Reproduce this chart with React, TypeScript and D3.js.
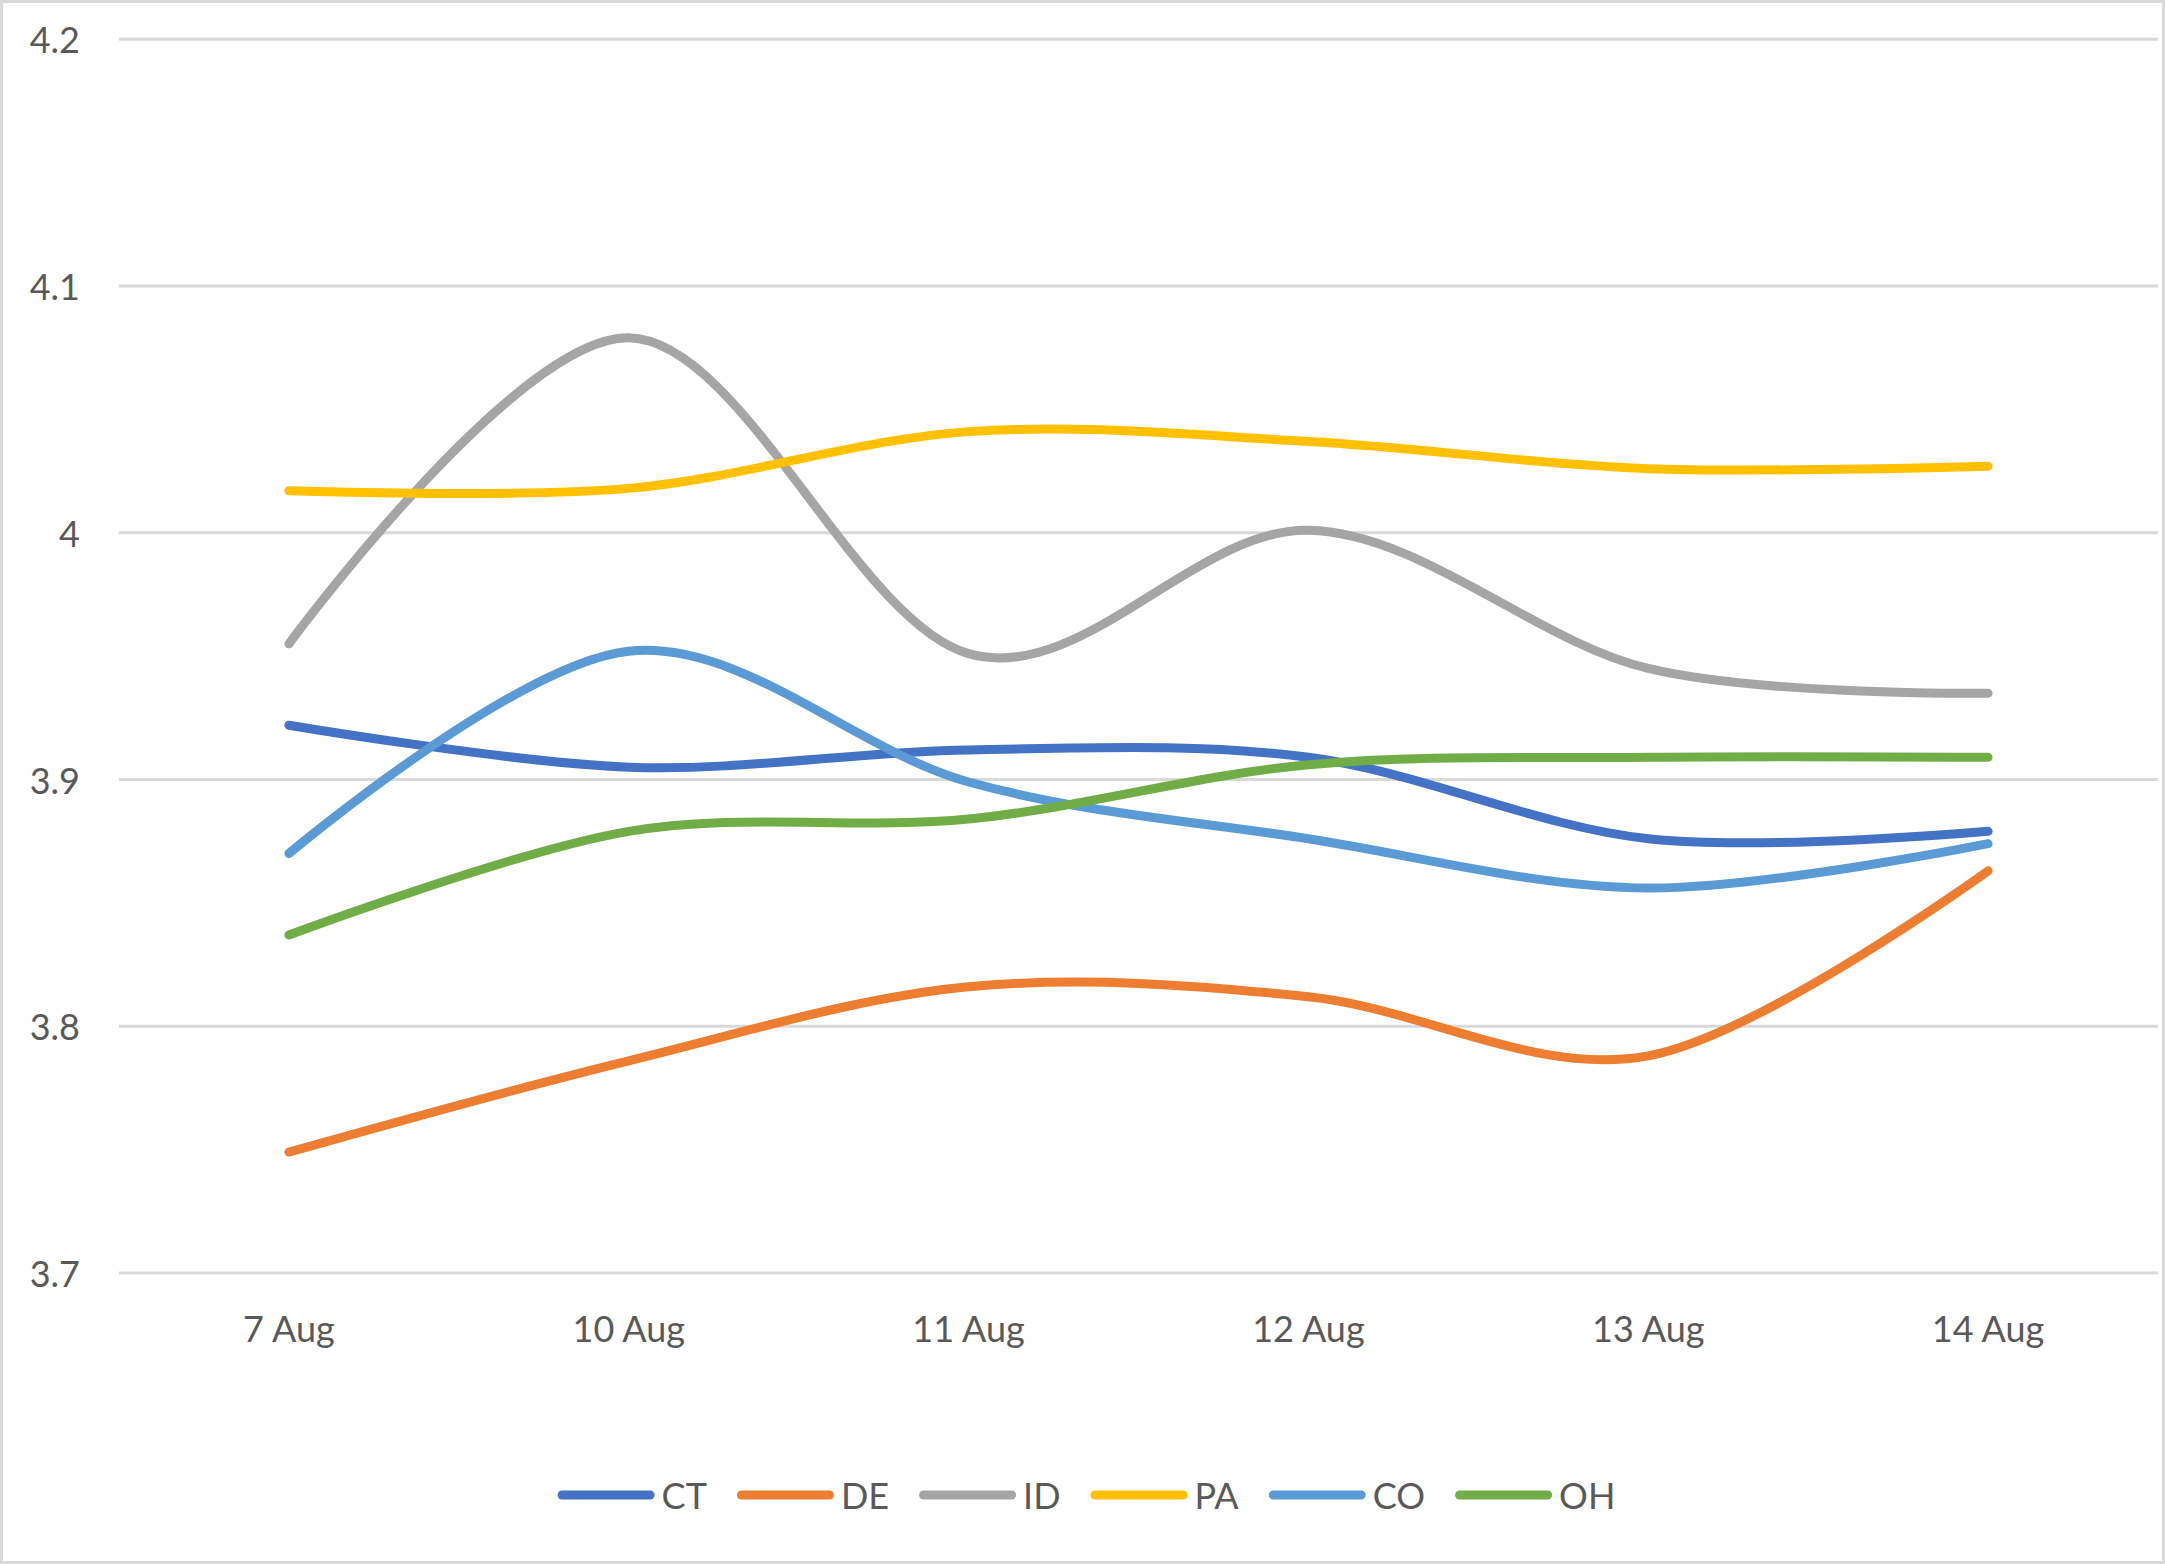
import React, { useMemo } from "react";
import * as d3 from "d3";

const categories = ["7 Aug", "10 Aug", "11 Aug", "12 Aug", "13 Aug", "14 Aug"];
const seriesNames = ["CT", "DE", "ID", "PA", "CO", "OH"];
const seriesColors = ["#4472C4", "#ED7D31", "#A5A5A5", "#FFC000", "#5B9BD5", "#70AD47"];
const ctValues = [3.922, 3.905, 3.912, 3.909, 3.876, 3.879];
const deValues = [3.749, 3.786, 3.816, 3.812, 3.788, 3.863];
const idValues = [3.955, 4.079, 3.951, 4.001, 3.945, 3.935];
const paValues = [4.017, 4.018, 4.041, 4.037, 4.026, 4.027];
const coValues = [3.870, 3.952, 3.899, 3.876, 3.856, 3.874];
const ohValues = [3.837, 3.879, 3.884, 3.906, 3.909, 3.909];
const yTicks = [3.7, 3.8, 3.9, 4.0, 4.1, 4.2];

const seriesValues = [ctValues, deValues, idValues, paValues, coValues, ohValues];

const W = 2165;
const H = 1564;
const FONT = "Lato, 'Open Sans', sans-serif";
const TEXT_COLOR = "#595959";
const GRID = "#D9D9D9";

function measure(text: string, size: number) {
  if (typeof document === "undefined") return text.length * size * 0.55;
  const c = document.createElement("canvas");
  const ctx = c.getContext("2d");
  if (!ctx) return text.length * size * 0.55;
  ctx.font = `${size}px Lato`;
  return ctx.measureText(text).width;
}

export default function App() {
  const margin = { left: 119, right: W - 2158, top: 39.3, bottom: H - 1273 };
  const x = d3
    .scaleBand<string>()
    .domain(categories)
    .range([margin.left, W - margin.right])
    .paddingInner(0)
    .paddingOuter(0);
  const y = d3.scaleLinear().domain([3.7, 4.2]).range([H - margin.bottom, margin.top]);

  const line = d3
    .line<number>()
    .x((_, i) => (x(categories[i]) as number) + x.bandwidth() / 2)
    .y((d) => y(d))
    .curve(d3.curveCardinal.tension(0));

  const fontSize = 36;
  const legendSym = 97;
  const legendGap = 7;
  const legendItemGap = 30;
  const legendItems = useMemo(() => {
    const widths = seriesNames.map((n) => measure(n, fontSize));
    const total =
      widths.reduce((a, w) => a + legendSym + legendGap + w, 0) + legendItemGap * (seriesNames.length - 1);
    let cx = W / 2 - total / 2 + 4;
    return seriesNames.map((n, i) => {
      const start = cx;
      cx += legendSym + legendGap + widths[i] + legendItemGap;
      return { name: n, x: start, color: seriesColors[i] };
    });
  }, []);
  const legendY = 1495;

  return (
    <svg
      width={W}
      height={H}
      style={{ position: "absolute", left: 0, top: 0, background: "#fff" }}
      fontFamily={FONT}
    >
      <rect x={1.5} y={1.5} width={W - 3} height={H - 3} fill="#fff" stroke={GRID} strokeWidth={3} />
      {yTicks.map((t) => (
        <g key={t}>
          <line
            x1={margin.left}
            x2={W - margin.right}
            y1={y(t)}
            y2={y(t)}
            stroke={GRID}
            strokeWidth={3}
          />
          <text
            x={80}
            y={y(t)}
            textAnchor="end"
            dominantBaseline="central"
            fontSize={fontSize}
            fill={TEXT_COLOR}
          >
            {d3.format("")(+t.toFixed(1))}
          </text>
        </g>
      ))}
      {categories.map((c) => (
        <text
          key={c}
          x={(x(c) as number) + x.bandwidth() / 2}
          y={1342}
          textAnchor="middle"
          fontSize={fontSize}
          fill={TEXT_COLOR}
        >
          {c}
        </text>
      ))}
      {seriesValues.map((vals, i) => (
        <path
          key={seriesNames[i]}
          d={line(vals) || ""}
          fill="none"
          stroke={seriesColors[i]}
          strokeWidth={9}
          strokeLinecap="round"
          strokeLinejoin="round"
        />
      ))}
      {legendItems.map((it) => (
        <g key={it.name}>
          <line
            x1={it.x + 4.5}
            x2={it.x + legendSym - 4.5}
            y1={legendY}
            y2={legendY}
            stroke={it.color}
            strokeWidth={9}
            strokeLinecap="round"
          />
          <text
            x={it.x + legendSym + legendGap}
            y={legendY}
            dominantBaseline="central"
            fontSize={fontSize}
            fill={TEXT_COLOR}
          >
            {it.name}
          </text>
        </g>
      ))}
    </svg>
  );
}
